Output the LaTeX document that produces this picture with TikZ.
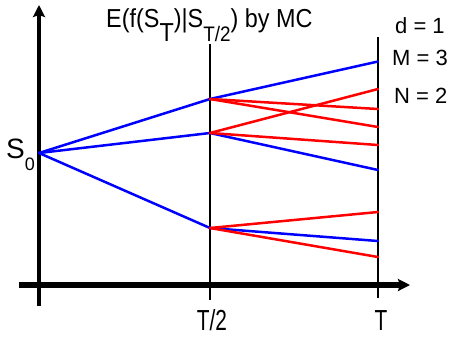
\documentclass[tikz,border=0pt]{standalone}
\usepackage{fontspec}
\setmainfont{Liberation Sans}
\usetikzlibrary{arrows.meta}
\definecolor{pblue}{RGB}{0,0,255}
\definecolor{pred}{RGB}{255,0,0}
\tikzset{
  axis/.style={line width=4pt,-{Stealth[length=12pt,width=12pt,inset=2pt]}},
  timeline/.style={line width=2pt},
  bluepath/.style={pblue,line width=2.5pt,line cap=round},
  redpath/.style={pred,line width=2.5pt,line cap=round},
  lbl/.style={inner sep=0pt,anchor=base west,font=\fontsize{22}{22}\selectfont},
  tick/.style={inner sep=0pt,anchor=base,font=\fontsize{29}{29}\selectfont},
}
\begin{document}
\begin{tikzpicture}[x=1pt,y=-1pt]
\useasboundingbox[fill=white] (0,0) rectangle (454,338);
% axes
\coordinate (vb) at (39,306);
\coordinate (vt) at (39,5);
\coordinate (hl) at (19,285);
\coordinate (hr) at (410,285);
\draw[axis] (vb) -- (vt);
\draw[axis,line width=5.5pt] (hl) -- (hr);
% time lines
\coordinate (mt) at (210,44);
\coordinate (mb) at (210,300);
\coordinate (tt) at (378,37);
\coordinate (tb) at (378,298);
\draw[timeline] (mt) -- (mb);
\draw[timeline] (tt) -- (tb);
% points
\coordinate (S0) at (39,153);
\coordinate (A) at (210,99);
\coordinate (B) at (210,133);
\coordinate (C) at (210,228);
\coordinate (e1) at (378,61.5);
\coordinate (e2) at (378,89);
\coordinate (e3) at (378,109);
\coordinate (e4) at (378,127);
\coordinate (e5) at (378,145);
\coordinate (e6) at (378,170);
\coordinate (e7) at (378,212);
\coordinate (e8) at (378,241);
\coordinate (e9) at (378,257);
% blue paths
\draw[bluepath] (S0) -- (A);
\draw[bluepath] (S0) -- (B);
\draw[bluepath] (S0) -- (C);
\draw[bluepath] (A) -- (e1);
\draw[bluepath] (B) -- (e6);
\draw[bluepath] (C) -- (e8);
% red paths
\draw[redpath] (B) -- (e2);
\draw[redpath] (A) -- (e3);
\draw[redpath] (A) -- (e4);
\draw[redpath] (B) -- (e5);
\draw[redpath] (C) -- (e7);
\draw[redpath] (C) -- (e9);
% texts
\node[inner sep=0pt,anchor=base west,font=\fontsize{26}{26}\selectfont] (title) at (106,27)
  {\scalebox{0.9}[1]{E(f(S\raisebox{-14pt}{T})|S\raisebox{-14pt}{\fontsize{21}{21}\selectfont T/2}) by MC}};
\node[lbl] (d) at (395,33) {d = 1};
\node[lbl] (M) at (392,65) {M = 3};
\node[lbl] (N) at (394,103) {N = 2};
\node[inner sep=0pt,anchor=base west,font=\fontsize{28}{28}\selectfont] (s0) at (6,158)
  {S\raisebox{-12pt}{\fontsize{18}{18}\selectfont 0}};
\node[tick] (th) at (212,330) {\scalebox{0.72}[1]{T/2}};
\node[tick] (tT) at (381,330) {\scalebox{0.72}[1]{T}};
\end{tikzpicture}
\end{document}
